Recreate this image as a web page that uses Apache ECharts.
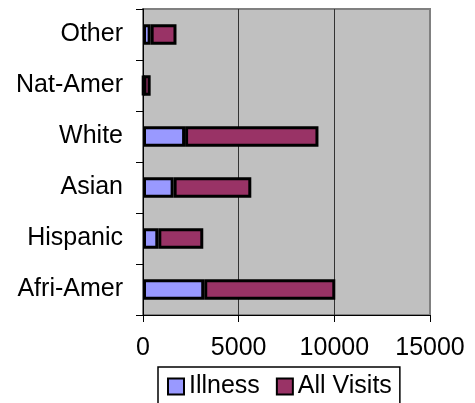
<!DOCTYPE html>
<html>
<head>
<meta charset="utf-8">
<script src="https://cdn.jsdelivr.net/npm/echarts@6/dist/echarts.min.js"></script>
<style>
  html, body { margin: 0; padding: 0; background: #fff; }
  #chart { width: 475px; height: 403px; }
</style>
</head>
<body>
<div id="chart"></div>
<script>
// Visits by group, stacked: illness visits plus the remaining visits
const categories = ['Afri-Amer', 'Hispanic', 'Asian', 'White', 'Nat-Amer', 'Other'];
const illness = [3200, 800, 1600, 2200, 20, 400];
const allVisits = [6850, 2350, 4060, 6970, 380, 1350];
const xTicks = { min: 0, max: 15000, step: 5000 };

const font = '"Liberation Sans", Arial, sans-serif';
const chart = echarts.init(document.getElementById('chart'));

chart.setOption({
  animation: false,
  textStyle: { fontFamily: font },
  grid: {
    left: 143, right: 45, top: 9, bottom: 88,
    show: true,
    backgroundColor: '#C0C0C0',
    borderColor: '#808080',
    borderWidth: 2
  },
  xAxis: {
    type: 'value',
    min: xTicks.min,
    max: xTicks.max,
    interval: xTicks.step,
    axisLine: { show: true, lineStyle: { color: '#000', width: 1 } },
    axisTick: { show: true, inside: false, length: 7, lineStyle: { color: '#000' } },
    axisLabel: {
      color: '#000', fontSize: 25, fontFamily: font, margin: 21,
      formatter: (v) => String(v)
    },
    splitLine: { show: true, lineStyle: { color: ['#000', '#333', '#333', '#808080'], width: 1 } }
  },
  yAxis: {
    type: 'category',
    data: categories,
    axisLine: { show: true, lineStyle: { color: '#000', width: 1 } },
    axisTick: { show: true, inside: false, length: 7, lineStyle: { color: '#000' } },
    axisLabel: { color: '#000', fontSize: 25, fontFamily: font, margin: 20 },
    splitLine: { show: false }
  },
  legend: {
    left: 158,
    top: 367,
    orient: 'horizontal',
    padding: [7, 8, 7, 9],
    itemGap: 16,
    itemWidth: 16,
    itemHeight: 16,
    icon: 'rect',
    borderColor: '#000',
    borderWidth: 1.5,
    textStyle: { color: '#000', fontSize: 25, fontFamily: font },
    data: ['Illness', 'All Visits']
  },
  series: [
    {
      name: 'Illness',
      type: 'bar',
      stack: 'visits',
      barWidth: '40%',
      data: illness,
      itemStyle: { color: '#9999FF', borderColor: '#000', borderWidth: 3 }
    },
    {
      name: 'All Visits',
      type: 'bar',
      stack: 'visits',
      barWidth: '40%',
      data: allVisits,
      itemStyle: { color: '#993366', borderColor: '#000', borderWidth: 3 }
    }
  ]
});
</script>
</body>
</html>
